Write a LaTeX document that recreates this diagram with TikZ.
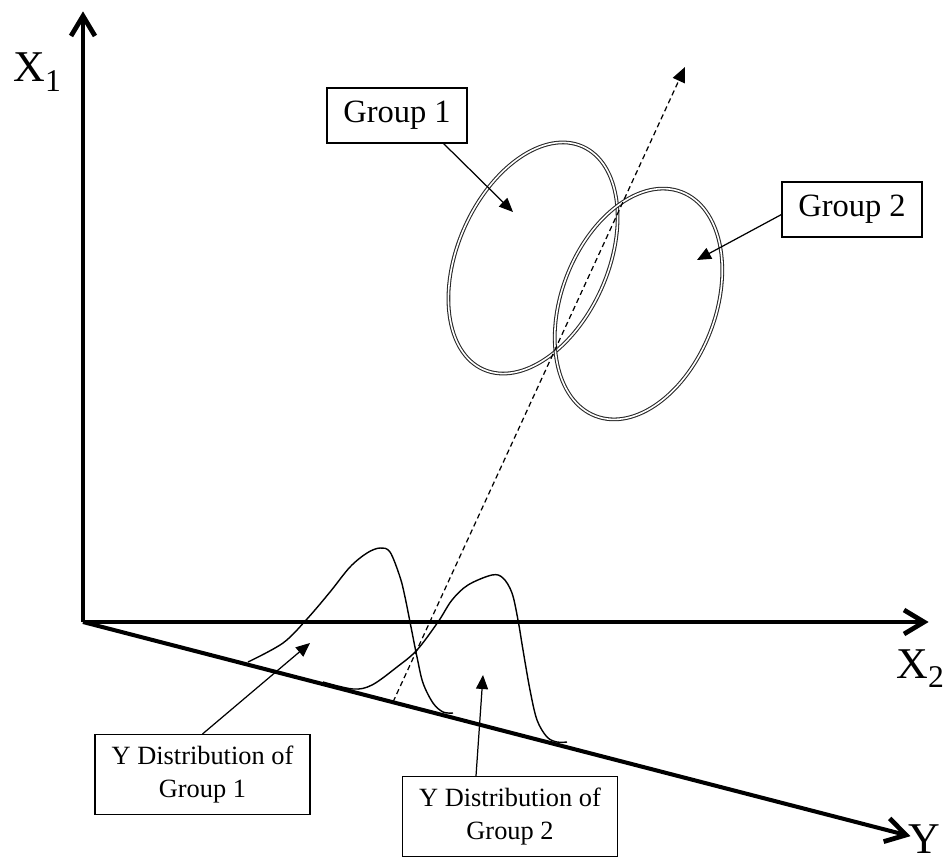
\documentclass[tikz,border=0pt]{standalone}
\usepackage{fontspec}
\setmainfont{Liberation Serif}
\usepackage{tikz}
\usetikzlibrary{arrows.meta, positioning, calc}

\newcommand{\axsub}[1]{\raisebox{-5.5pt}{\fontsize{18}{18}\selectfont #1}}

\begin{document}
\begin{tikzpicture}[
    axis/.style={line width=2.3pt},
    barb/.style={line width=2.7pt, line join=miter},
    axlabel/.style={font=\fontsize{25}{30}\selectfont, inner sep=0pt, anchor=base west},
    grouplabel/.style={draw, line width=0.6pt, font=\fontsize{18.5}{22}\selectfont,
      minimum width=2.8cm, minimum height=1.1cm, inner sep=2pt},
    distlabel/.style={draw, line width=0.6pt, font=\fontsize{15}{19}\selectfont, align=center,
      minimum width=4.3cm, minimum height=1.6cm, inner sep=2pt},
    pointer/.style={line width=0.7pt, -{Triangle[length=2.8mm, width=2.4mm]}},
    cluster/.style={draw=black!85, double, line width=0.6pt, double distance=0.9pt},
    distcurve/.style={line width=0.8pt},
]

\useasboundingbox (-1.66,-4.70) rectangle (17.2,12.44);

% === Axes ===
\coordinate (O) at (0,0);
\coordinate (x1end) at (0,12.12);
\coordinate (x2end) at (16.82,0);
\coordinate (yend) at (16.46,-4.26);
\foreach \tipend in {x1end, x2end, yend} {
    \draw[axis] (O) -- (\tipend);
    \draw[barb] ($(\tipend)!4mm!(O)!2.4mm!90:(\tipend)$) -- (\tipend)
        -- ($(\tipend)!4mm!(O)!2.4mm!-90:(\tipend)$);
}

\node[axlabel] (x1lab) at (-1.4,10.8) {X\axsub{1}};
\node[axlabel] (x2lab) at (16.26,-1.12) {X\axsub{2}};
\node[axlabel] (ylab) at (16.5,-4.62) {Y};

% === Groups ===
\draw[cluster] (9.0,7.28) ellipse [x radius=1.5, y radius=2.44, rotate=-24];
\draw[cluster] (11.11,6.36) ellipse [x radius=1.54, y radius=2.4, rotate=-21];

% Discriminant direction
\coordinate (projstart) at (6.2,-1.6);
\coordinate (projend) at (12.04,11.1);
\draw[line width=0.7pt, dash pattern=on 3pt off 2pt,
      -{Triangle[length=3mm, width=2.6mm]}] (projstart) -- (projend);

% Group labels
\node[grouplabel] (g1) at (6.28,10.13) {Group 1};
\node[grouplabel] (g2) at (15.38,8.25) {Group 2};
\coordinate (g1tip) at (8.6,8.2);
\coordinate (g2tip) at (12.28,7.24);
\draw[pointer] ([xshift=-4.8mm]g1.south east) -- (g1tip);
\draw[pointer] ([yshift=-1mm]g2.west) -- (g2tip);

% === Y distributions ===
\draw[distcurve] plot[smooth, tension=0.55] coordinates {
    (3.3,-0.8) (4.0,-0.42) (4.48,0.06) (4.94,0.6) (5.34,1.1) (5.68,1.38)
    (5.94,1.48) (6.14,1.4) (6.34,0.9) (6.44,0.5) (6.56,-0.1) (6.68,-0.7)
    (6.8,-1.22) (7.0,-1.62) (7.2,-1.8) (7.4,-1.82)};
\draw[distcurve] plot[smooth, tension=0.55] coordinates {
    (4.8,-1.2) (5.4,-1.34) (5.78,-1.26) (6.28,-0.9) (6.68,-0.56) (7.1,0)
    (7.38,0.44) (7.7,0.74) (8.18,0.94) (8.4,0.88) (8.58,0.58) (8.7,0.04)
    (8.8,-0.56) (8.94,-1.36) (9.08,-1.96) (9.28,-2.3) (9.48,-2.4) (9.68,-2.4)};

% Distribution labels
\node[distlabel] (d1) at (2.39,-3.05) {Y Distribution of\\Group 1};
\node[distlabel] (d2) at (8.54,-3.89) {Y Distribution of\\Group 2};
\coordinate (d1tip) at (4.54,-0.42);
\coordinate (d2tip) at (8.0,-1.06);
\draw[pointer] (d1.north) -- (d1tip);
\draw[pointer] ([xshift=-6.8mm]d2.north) -- (d2tip);

\end{tikzpicture}
\end{document}
